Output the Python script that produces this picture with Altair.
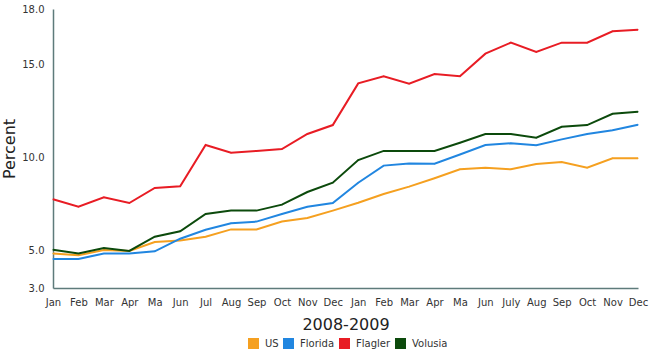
import altair as alt
import pandas as pd

month_labels = ["Jan", "Feb", "Mar", "Apr", "Ma", "Jun", "Jul", "Aug", "Sep", "Oct", "Nov", "Dec",
                "Jan", "Feb", "Mar", "Apr", "Ma", "Jun", "July", "Aug", "Sep", "Oct", "Nov", "Dec"]

series_names = ["US", "Florida", "Flagler", "Volusia"]
series_colors = ["#f5a020", "#2186e0", "#e81c24", "#0c4a0c"]

us = [4.85, 4.76, 5.04, 4.99, 5.47, 5.56, 5.76, 6.15, 6.15, 6.57, 6.76, 7.16,
      7.58, 8.05, 8.45, 8.9, 9.38, 9.47, 9.38, 9.67, 9.77, 9.47, 9.97, 9.97]
florida = [4.56, 4.56, 4.86, 4.86, 4.97, 5.65, 6.13, 6.48, 6.57, 6.98, 7.37, 7.57,
           8.66, 9.58, 9.7, 9.68, 10.18, 10.69, 10.78, 10.67, 10.99, 11.28, 11.48, 11.78]
flagler = [7.77, 7.37, 7.88, 7.57, 8.38, 8.47, 10.69, 10.27, 10.37, 10.47, 11.28, 11.76,
           14.0, 14.38, 13.98, 14.5, 14.38, 15.6, 16.19, 15.69, 16.19, 16.19, 16.8, 16.89]
volusia = [5.06, 4.85, 5.15, 4.99, 5.76, 6.05, 6.98, 7.16, 7.16, 7.48, 8.16, 8.66,
           9.88, 10.37, 10.37, 10.37, 10.81, 11.28, 11.28, 11.08, 11.67, 11.76, 12.37, 12.48]

y_ticks = [3, 5, 10, 15, 18]

rows = []
for name, vals in zip(series_names, [us, florida, flagler, volusia]):
    for i, v in enumerate(vals):
        rows.append({"idx": i, "series": name, "value": v})
df = pd.DataFrame(rows)

label_expr = "[" + ",".join("'" + m + "'" for m in month_labels) + "][datum.value]"
FONT = "DejaVu Sans"
AXIS_COLOR = "#5e7b7b"

x_enc = alt.X("idx:Q",
              scale=alt.Scale(domain=[0, len(month_labels) - 1], nice=False, zero=False),
              axis=alt.Axis(values=list(range(len(month_labels))), labelExpr=label_expr,
                            title="2008-2009", ticks=False, grid=False, labelPadding=9,
                            labelFontSize=10, labelColor="#333333", labelFont=FONT,
                            titleFont=FONT, titleFontSize=16, titleFontWeight="normal",
                            titleColor="#222222", titleBaseline="top", titleY=28,
                            domainColor=AXIS_COLOR, domainWidth=1.5, labelFlush=False,
                            labelOverlap=False, labelBound=False))
y_enc = alt.Y("value:Q",
              scale=alt.Scale(domain=[3, 18], nice=False, zero=False),
              axis=alt.Axis(values=y_ticks, format=".1f", title="Percent", ticks=False,
                            grid=False, labelPadding=9, labelFontSize=10,
                            labelColor="#333333", labelFont=FONT, titleFont=FONT,
                            titleFontSize=16, titleFontWeight="normal", titleColor="#222222",
                            titleAngle=270, titleBaseline="bottom", titleAlign="center",
                            titleX=-36, titleY=139.5, domainColor=AXIS_COLOR,
                            domainWidth=1.5, labelFlush=False, labelOverlap=False))
color_enc = alt.Color("series:N",
                      scale=alt.Scale(domain=series_names, range=series_colors),
                      legend=alt.Legend(title=None, orient="none", direction="horizontal",
                                        legendX=195, legendY=329, symbolType="square",
                                        symbolSize=121, symbolStrokeWidth=0,
                                        symbolOpacity=1, labelFontSize=10, labelFont=FONT,
                                        labelColor="#333333", labelOffset=6,
                                        columnPadding=4, padding=0))

base = alt.Chart(df).encode(x=x_enc, y=y_enc, color=color_enc)

squares = base.mark_square(size=1, filled=True, opacity=1)
lines = base.mark_line(strokeWidth=2)

chart = alt.layer(squares, lines).properties(
    width=585, height=279,
    padding={"left": 53, "top": 9, "right": 12, "bottom": 65},
    autosize=alt.AutoSizeParams(type="none"),
    background="white",
).configure_view(strokeWidth=0)

chart.save("out.html", embed_options={"renderer": "svg", "actions": False})
